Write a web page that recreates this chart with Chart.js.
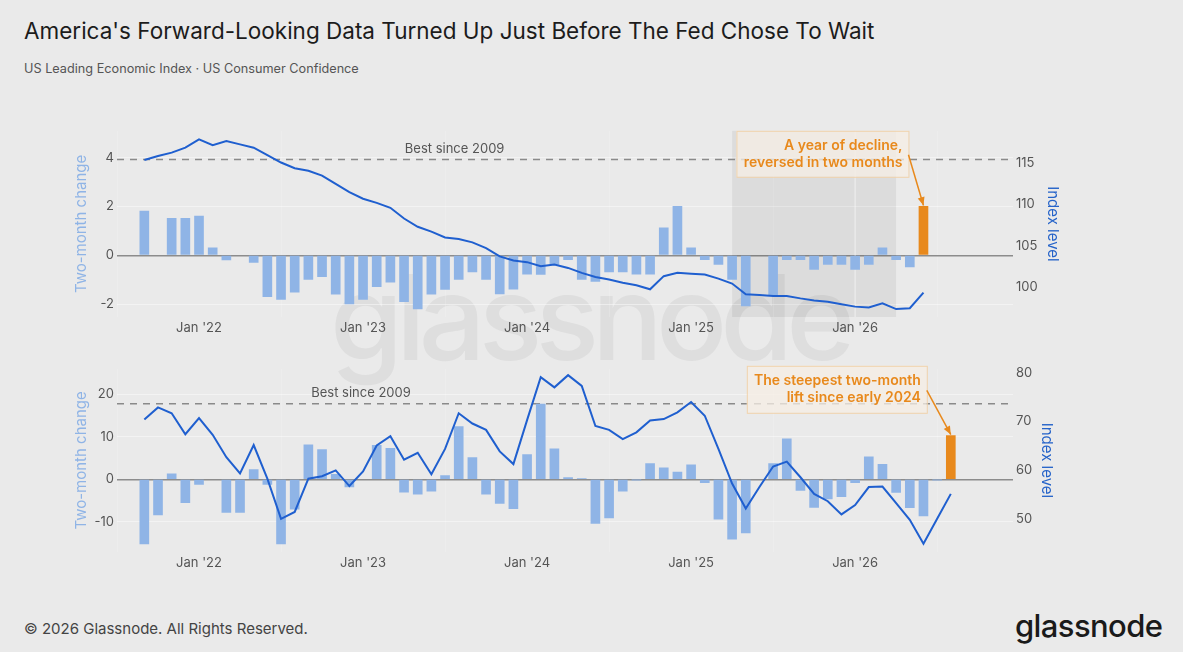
<!DOCTYPE html>
<html>
<head>
<meta charset="utf-8">
<script src="https://cdn.jsdelivr.net/npm/chart.js@4.4.1/dist/chart.umd.min.js"></script>
<style>
html, body { margin: 0; padding: 0; background: #eaeaea; }
body { width: 1183px; height: 652px; position: relative; overflow: hidden; font-family: Inter, 'Noto Sans', sans-serif; }
#title { position: absolute; left: 24px; top: 17px; font-size: 22.5px; color: #1c1c1c; white-space: nowrap; }
#sub { position: absolute; left: 24px; top: 61px; font-size: 12.7px; color: #555; white-space: nowrap; }
#wm { position: absolute; left: 330px; top: 258px; font-size: 118px; line-height: 1; font-weight: 500; color: #dedede; letter-spacing: -7px; }
canvas { position: absolute; left: 0; }
#foot { position: absolute; left: 24px; top: 619px; font-size: 15px; color: #444; }
#logo { position: absolute; left: 1015px; top: 607px; font-size: 31px; font-weight: 500; color: #1a1a1a; letter-spacing: -0.6px; }
</style>
</head>
<body>
<div id="title">America's Forward-Looking Data Turned Up Just Before The Fed Chose To Wait</div>
<div id="sub">US Leading Economic Index · US Consumer Confidence</div>
<div id="wm">glassnode</div>
<canvas id="top" width="1183" height="220" style="top:120px"></canvas>
<canvas id="bottom" width="1183" height="212" style="top:358px"></canvas>
<div id="foot">© 2026 Glassnode. All Rights Reserved.</div>
<div id="logo">glassnode</div>
<script>
// months Sep 2021 .. Aug 2026
var months = [
  '2021-09','2021-10','2021-11','2021-12',
  '2022-01','2022-02','2022-03','2022-04','2022-05','2022-06','2022-07','2022-08','2022-09','2022-10','2022-11','2022-12',
  '2023-01','2023-02','2023-03','2023-04','2023-05','2023-06','2023-07','2023-08','2023-09','2023-10','2023-11','2023-12',
  '2024-01','2024-02','2024-03','2024-04','2024-05','2024-06','2024-07','2024-08','2024-09','2024-10','2024-11','2024-12',
  '2025-01','2025-02','2025-03','2025-04','2025-05','2025-06','2025-07','2025-08','2025-09','2025-10','2025-11','2025-12',
  '2026-01','2026-02','2026-03','2026-04','2026-05','2026-06','2026-07','2026-08'
];

// US Leading Economic Index: two-month change and level
var leiChange = [
  1.81, null, 1.51, 1.51,
  1.61, 0.30, -0.19, null, -0.29, -1.70, -1.81, -1.51, -0.99, -0.88, -1.59, -1.99,
  -1.81, -1.29, -1.10, -1.90, -2.20, -1.59, -1.40, -0.99, -0.68, -0.99, -1.58, -1.39,
  -0.78, -0.79, -0.38, -0.18, -0.99, -1.07, -0.68, -0.68, -0.78, -0.78, 1.12, 2.00,
  0.30, -0.18, -0.38, -0.99, -2.08, null, -1.65, -0.18, -0.18, -0.58, -0.38, -0.38,
  -0.58, -0.38, 0.30, -0.18, -0.48, 2.00
];
var leiLevel = [
  115.4, 115.9, 116.3, 116.9,
  117.9, 117.2, 117.7, 117.3, 116.9, 116.0, 115.1, 114.4, 114.1, 113.5, 112.5, 111.5,
  110.7, 110.2, 109.6, 108.3, 107.3, 106.7, 106.0, 105.8, 105.4, 104.7, 103.7, 103.2,
  103.0, 102.5, 102.7, 102.3, 101.7, 101.2, 100.9, 100.5, 100.2, 99.7, 101.3, 101.7,
  101.6, 101.5, 101.0, 100.4, 99.1, 99.0, 98.9, 98.9, 98.6, 98.35, 98.2, 97.9,
  97.6, 97.5, 98.0, 97.3, 97.4, 99.3
];

// US Consumer Confidence: two-month change and level
var ccChange = [
  -15.2, -8.4, 1.3, -5.5,
  -1.2, null, -7.8, -7.8, 2.3, -1.2, -15.2, -7.0, 8.1, 7.0, 1.2, -1.8,
  null, 8.0, 7.3, -3.0, -3.5, -2.8, 0.9, 12.4, 5.1, -3.5, -5.7, -6.9,
  5.8, 17.7, 7.2, 0.4, 0.2, -10.4, -9.1, -2.8, -0.1, 3.7, 2.7, 1.7,
  3.4, -0.8, -9.4, -14.1, -12.6, null, 3.7, 9.5, -2.6, -6.6, -4.6, -4.1,
  -0.8, 5.3, 3.5, -3.1, -6.7, -8.6, -0.1, 10.3
];
var ccLevel = [
  70.4, 72.9, 71.7, 67.4,
  70.7, 67.3, 62.7, 59.4, 65.2, 58.3, 50.1, 51.5, 58.3, 58.8, 60.0, 56.8,
  59.8, 65.1, 67.0, 62.2, 63.6, 59.2, 64.4, 71.7, 69.6, 68.3, 63.9, 61.3,
  70.3, 79.1, 77.0, 79.5, 77.3, 69.1, 68.3, 66.4, 67.8, 70.2, 70.5, 71.9,
  74.0, 71.2, 64.4, 57.3, 52.2, 56.6, 60.8, 61.8, 58.6, 55.2, 53.7, 51.0,
  52.9, 56.6, 56.7, 53.3, 49.9, 45.0, 50.1, 55.2
];

var yearTicks = ['2022-01', '2023-01', '2024-01', '2025-01', '2026-01'];
var leiBest = 3.92, ccBest = 17.8;
var leiShade = ['2025-04', '2026-04'];
var leiNote = ['A year of decline,', 'reversed in two months'];
var ccNote = ['The steepest two-month', 'lift since early 2024'];

var BLUE_BAR = '#8fb4e6', BLUE_LINE = '#1f5fcf', ORANGE = '#e8891c';

function mIdx(s) {
  var p = s.split('-');
  return (parseInt(p[0]) - 2022) * 12 + parseInt(p[1]) - 1;
}
function pts(vals) {
  return vals.map(function(v, i) { return { x: mIdx(months[i]), y: v }; });
}

Chart.defaults.font.family = "Inter, 'Noto Sans', sans-serif";
Chart.defaults.color = '#555';

var notesPlugin = {
  id: 'notes',
  beforeDatasetsDraw: function(chart, args, o) {
    var ctx = chart.ctx, a = chart.chartArea, x = chart.scales.x, y = chart.scales.y;
    ctx.save();
    if (o.shade) {
      var x0 = x.getPixelForValue(mIdx(o.shade[0])), x1 = x.getPixelForValue(mIdx(o.shade[1]));
      ctx.fillStyle = 'rgba(0,0,0,0.06)';
      ctx.fillRect(x0, a.top, x1 - x0, a.bottom - a.top);
      // gridline over shaded area
      var g = x.getPixelForValue(mIdx('2026-01'));
      ctx.strokeStyle = 'rgba(255,255,255,0.55)';
      ctx.lineWidth = 1;
      ctx.beginPath(); ctx.moveTo(g, a.top); ctx.lineTo(g, a.bottom); ctx.stroke();
    }
    var by = y.getPixelForValue(o.best);
    ctx.strokeStyle = '#8a8a8a';
    ctx.lineWidth = 1.5;
    ctx.setLineDash([7, 6]);
    ctx.beginPath(); ctx.moveTo(a.left, by); ctx.lineTo(a.right, by); ctx.stroke();
    ctx.setLineDash([]);
    ctx.fillStyle = '#555';
    ctx.font = "13px Inter, 'Noto Sans', sans-serif";
    ctx.textAlign = 'center';
    ctx.textBaseline = 'middle';
    ctx.fillText('Best since 2009', x.getPixelForValue(o.bestLabelX), by - 11);
    ctx.restore();
  },
  afterDatasetsDraw: function(chart, args, o) {
    var ctx = chart.ctx, a = chart.chartArea, x = chart.scales.x, y = chart.scales.y;
    var last = o.values.length - 1;
    var tx = x.getPixelForValue(mIdx(months[last]));
    var ty = y.getPixelForValue(o.values[last]);
    var right = tx + o.dx, top = a.top + o.dy, w = o.w, h = o.h;
    ctx.save();
    ctx.fillStyle = 'rgba(245,238,228,0.75)';
    ctx.fillRect(right - w, top, w, h);
    ctx.strokeStyle = '#f1d3ac';
    ctx.lineWidth = 1;
    ctx.strokeRect(right - w + 0.5, top + 0.5, w, h);
    ctx.fillStyle = ORANGE;
    ctx.font = "600 14px Inter, 'Noto Sans', sans-serif";
    ctx.textAlign = 'right';
    ctx.textBaseline = 'middle';
    ctx.fillText(o.text[0], right - 6, top + 15);
    ctx.fillText(o.text[1], right - 6, top + 32);
    // arrow
    var sx = right, sy = top + h / 2 + 1, ex = tx, ey = ty - 1;
    ctx.strokeStyle = ORANGE;
    ctx.lineWidth = 1.5;
    ctx.beginPath(); ctx.moveTo(sx, sy); ctx.lineTo(ex, ey); ctx.stroke();
    var ang = Math.atan2(ey - sy, ex - sx), L = 9;
    ctx.beginPath();
    ctx.moveTo(ex, ey);
    ctx.lineTo(ex - L * Math.cos(ang - 0.4), ey - L * Math.sin(ang - 0.4));
    ctx.lineTo(ex - L * Math.cos(ang + 0.4), ey - L * Math.sin(ang + 0.4));
    ctx.closePath();
    ctx.fillStyle = ORANGE;
    ctx.fill();
    ctx.restore();
  }
};

function makeChart(id, changes, levels, cfg) {
  var last = changes.length - 1;
  return new Chart(document.getElementById(id), {
    data: {
      datasets: [
        {
          type: 'line', label: 'Index level', data: pts(levels), yAxisID: 'y1',
          borderColor: BLUE_LINE, borderWidth: 2, pointRadius: 0, tension: 0, order: 0
        },
        {
          type: 'bar', label: 'Two-month change', data: pts(changes), yAxisID: 'y',
          backgroundColor: function(c) { return c.dataIndex === last ? ORANGE : BLUE_BAR; },
          barThickness: 9, order: 1
        }
      ]
    },
    options: {
      responsive: false,
      animation: false,
      layout: { padding: { left: 68, right: 1183 - 1013 - cfg.rightW, top: 10, bottom: 0 } },
      plugins: {
        legend: { display: false },
        tooltip: { enabled: false },
        notes: cfg.notes
      },
      scales: {
        x: {
          type: 'linear', min: -6, max: 59.55, offset: false,
          grid: { color: 'rgba(255,255,255,0.15)', drawTicks: false },
          border: { display: false },
          ticks: { padding: 3, font: { size: 13 }, color: '#555', maxRotation: 0,
            callback: function(v) { return "Jan '" + (22 + v / 12); } },
          afterBuildTicks: function(s) { s.ticks = yearTicks.map(function(m) { return { value: mIdx(m) }; }); },
          afterFit: function(s) { s.height = cfg.xH; }
        },
        y: {
          position: 'left', min: cfg.yMin, max: cfg.yMax,
          grid: {
            drawTicks: false,
            color: function(c) { return c.tick && c.tick.value === 0 ? '#8c8c8c' : 'rgba(255,255,255,0.45)'; },
            lineWidth: function(c) { return c.tick && c.tick.value === 0 ? 1.5 : 1; }
          },
          border: { display: false },
          ticks: { padding: 3, font: { size: 13 }, color: '#555' },
          afterBuildTicks: function(s) { s.ticks = cfg.yTicks.map(function(v) { return { value: v }; }); },
          title: { display: true, text: 'Two-month change', color: '#8fb4e6', font: { size: 15 } },
          afterFit: function(s) { s.width = 49; }
        },
        y1: {
          position: 'right', min: cfg.rMin, max: cfg.rMax,
          grid: { drawOnChartArea: false, drawTicks: false },
          border: { display: false },
          ticks: { padding: 3, font: { size: 13 }, color: '#555' },
          afterBuildTicks: function(s) { s.ticks = cfg.rTicks.map(function(v) { return { value: v }; }); },
          title: { display: true, text: 'Index level', color: '#2563c9', font: { size: 15 } },
          afterFit: function(s) { s.width = cfg.rightW; }
        }
      }
    },
    plugins: [notesPlugin]
  });
}

makeChart('top', leiChange, leiLevel, {
  rightW: 53, xH: 23,
  yMin: -2.53, yMax: 5.1, yTicks: [-2, 0, 2, 4],
  rMin: 96.34, rMax: 118.95, rTicks: [100, 105, 110, 115],
  notes: { values: leiChange, best: leiBest, bestLabelX: 18.7, shade: leiShade,
           text: leiNote, dx: -15, dy: 0, w: 172, h: 46 }
});

makeChart('bottom', ccChange, ccLevel, {
  rightW: 47, xH: 18,
  yMin: -17.1, yMax: 26.0, yTicks: [-10, 0, 10, 20],
  rMin: 43.3, rMax: 80.8, rTicks: [50, 60, 70, 80],
  notes: { values: ccChange, best: ccBest, bestLabelX: 11.85, shade: null,
           text: ccNote, dx: -24, dy: -3, w: 180, h: 47 }
});
</script>
</body>
</html>
